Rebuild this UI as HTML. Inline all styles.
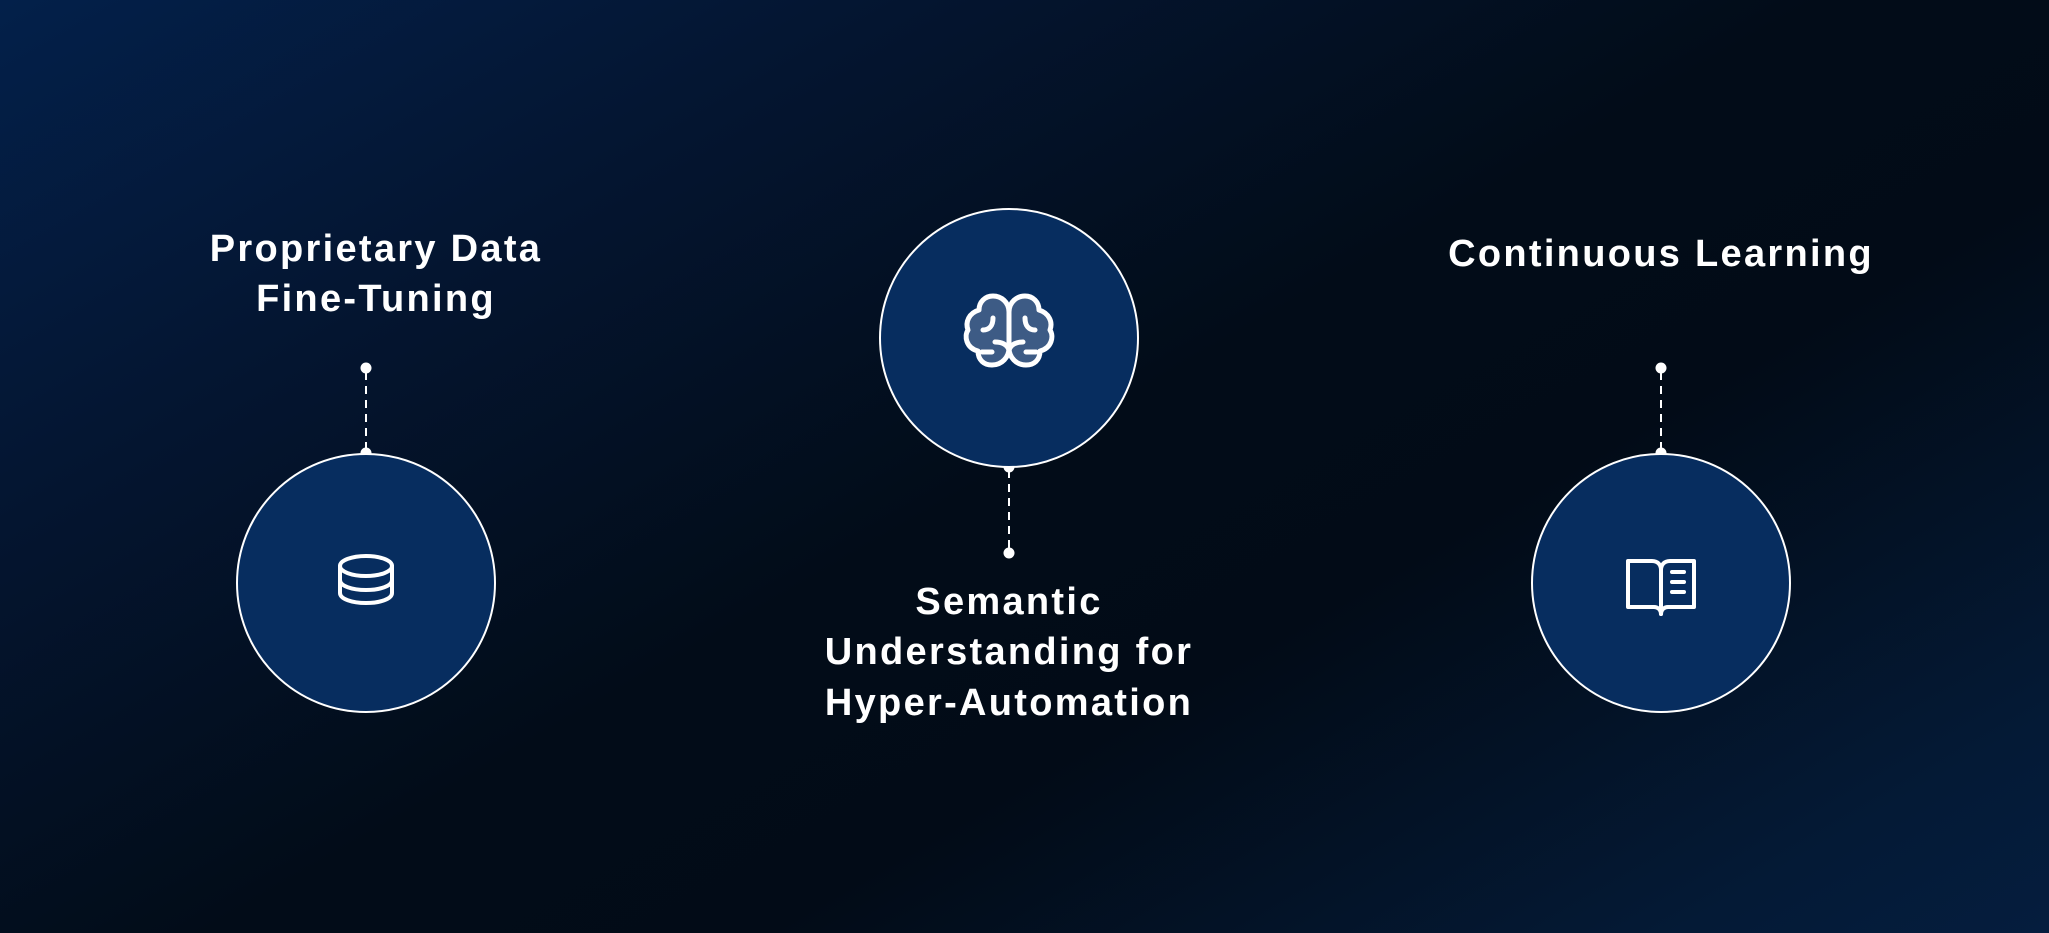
<!DOCTYPE html>
<html><head><meta charset="utf-8"><style>
html,body{margin:0;padding:0;}
body{width:2049px;height:933px;overflow:hidden;background:linear-gradient(150deg,#03204a 0%,#041530 25%,#020c18 50%,#020b17 65%,#041a36 90%,#051d3e 100%);}
svg{position:absolute;left:0;top:0;}
text{font-family:"Liberation Sans",sans-serif;font-weight:bold;font-size:38px;letter-spacing:2.3px;fill:#fff;text-anchor:middle;}
</style></head><body>
<svg width="2049" height="933" viewBox="0 0 2049 933">
<g stroke="#fff" stroke-width="2" stroke-dasharray="8,6">
<line x1="366" y1="372" x2="366" y2="452"/>
<line x1="1009" y1="470" x2="1009" y2="550"/>
<line x1="1661" y1="372" x2="1661" y2="452"/>
</g>
<g fill="#fff">
<circle cx="366" cy="368" r="5.5"/><circle cx="366" cy="453" r="5.5"/>
<circle cx="1009" cy="467" r="5.5"/><circle cx="1009" cy="553" r="5.5"/>
<circle cx="1661" cy="368" r="5.5"/><circle cx="1661" cy="453" r="5.5"/>
</g>
<g fill="#072d5f" stroke="#fff" stroke-width="2">
<circle cx="366" cy="583" r="129"/>
<circle cx="1009" cy="338" r="129"/>
<circle cx="1661" cy="583" r="129"/>
</g>
<g fill="none" stroke="#fff" stroke-width="4" stroke-linecap="round">
<ellipse cx="366" cy="566" rx="26" ry="10"/>
<path d="M340 566v27c0 6 12 10 26 10s26-4 26-10v-27"/>
<path d="M340 580c0 6 12 10 26 10s26-4 26-10"/>
</g>
<g stroke="#fff" stroke-width="5" stroke-linecap="round" stroke-linejoin="round" fill="#3d5b85">
<path d="M1009 312c0-10-8-16-16-16s-14 6-14 14c-10 3-14 12-11 20-4 6-2 18 10 21 0 9 6 14 14 14 10 0 17-8 17-17z"/>
<path d="M1009 312c0-10 8-16 16-16s14 6 14 14c10 3 14 12 11 20 4 6 2 18-10 21 0 9-6 14-14 14-10 0-17-8-17-17z"/>
<path d="M1009 312v42M993 318c0 8-4 12-10 12M1025 318c0 8 4 12 10 12M1009 350c-2-6-8-8-14-8M1009 350c2-6 8-8 14-8M982 352h10M1036 352h-10" fill="none"/>
</g>
<g fill="none" stroke="#fff" stroke-width="4" stroke-linecap="round" stroke-linejoin="round">
<path d="M1661 570c0-5-3-9-9-9h-24v46h26c4 0 7 3 7 7 0-4 3-7 7-7h26v-46h-24c-6 0-9 4-9 9z"/>
<path d="M1661 570v44M1672 572h12M1672 582h12M1672 592h12"/>
</g>
<text x="376" y="261">Proprietary Data</text>
<text x="376" y="311">Fine-Tuning</text>
<text x="1661" y="266">Continuous Learning</text>
<text x="1009" y="614">Semantic</text>
<text x="1009" y="664">Understanding for</text>
<text x="1009" y="715">Hyper-Automation</text>
</svg>
</body></html>
